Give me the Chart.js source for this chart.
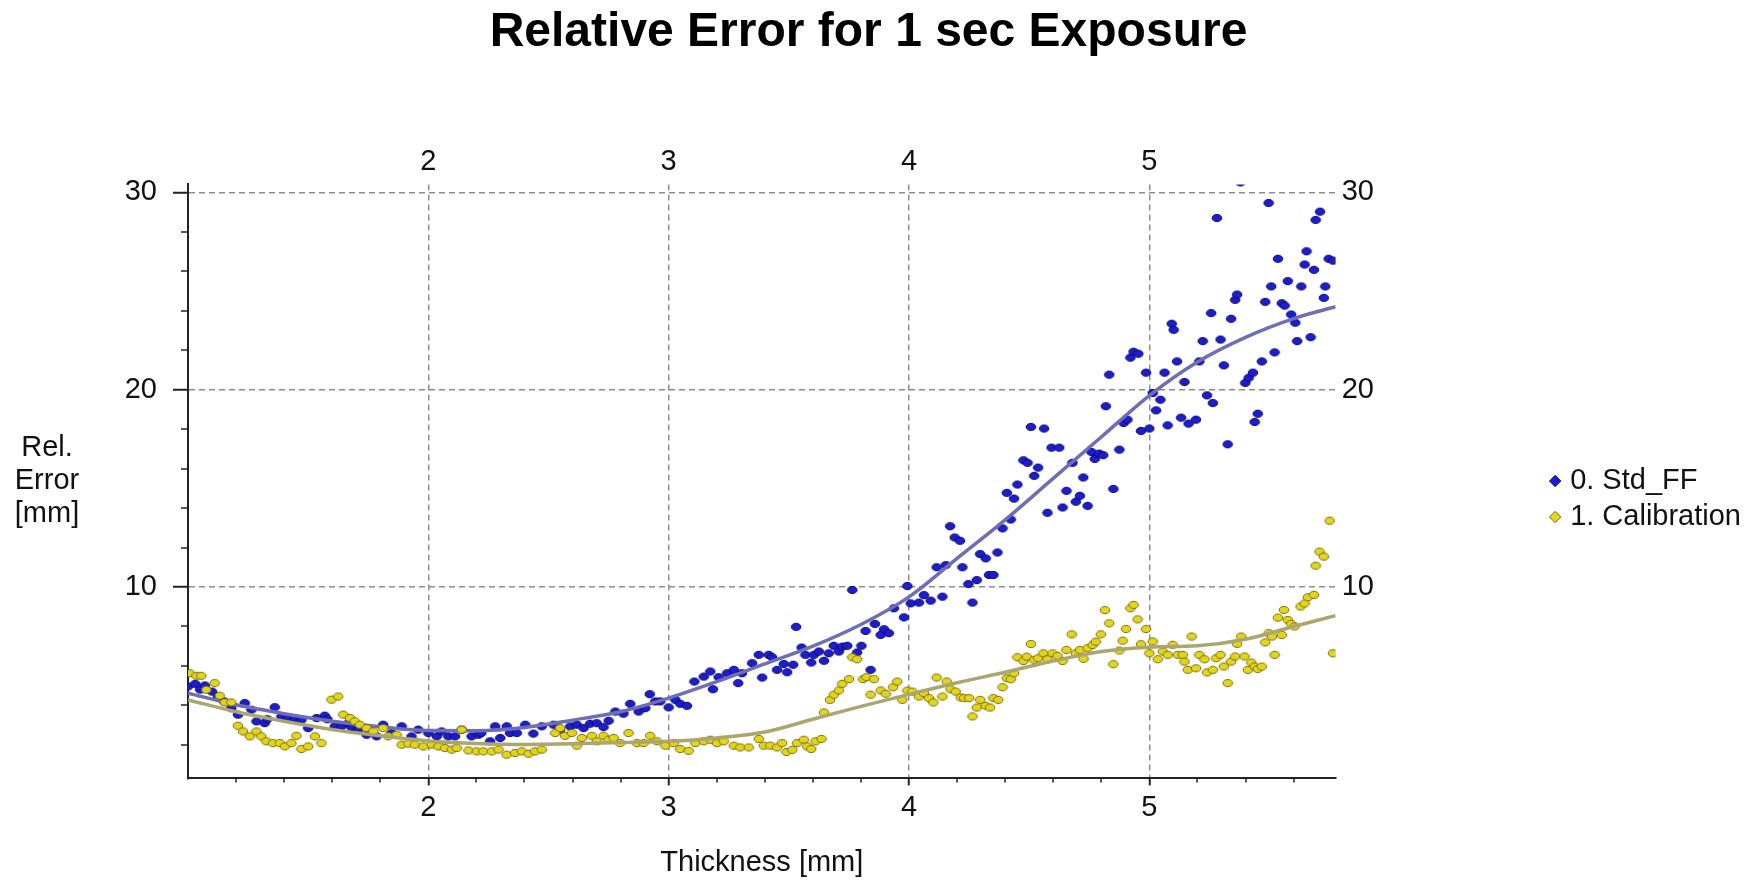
<!DOCTYPE html>
<html>
<head>
<meta charset="utf-8">
<title>Relative Error for 1 sec Exposure</title>
<script src="https://cdn.jsdelivr.net/npm/chart.js@4.4.1/dist/chart.umd.min.js"></script>
<style>
    html, body { margin: 0; padding: 0; background: #fff; }
    #wrap { width: 1751px; height: 880px; }
</style>
</head>
<body>
<div id="wrap"><canvas id="rel-error" width="1751" height="880"></canvas></div>
<script>
// 0. Std_FF measured points
var stdThickness = [1.00, 1.03, 1.05, 1.07, 1.10, 1.125, 1.15, 1.18, 1.208, 1.236, 1.264, 1.285, 1.319, 1.33, 1.361, 1.389, 1.417, 1.444, 1.472, 1.50,
    1.535, 1.569, 1.58, 1.611, 1.639, 1.667, 1.68, 1.708, 1.743, 1.76, 1.785, 1.812, 1.847, 1.889, 1.93, 1.958, 2.00, 2.035, 2.055, 2.083,
    2.111, 2.139, 2.18, 2.208, 2.22, 2.257, 2.278, 2.299, 2.326, 2.34, 2.368, 2.403, 2.437, 2.472, 2.521, 2.548, 2.59, 2.618, 2.646, 2.673,
    2.701, 2.729, 2.75, 2.778, 2.812, 2.84, 2.875, 2.903, 2.921, 2.944, 2.965, 3.00, 3.028, 3.048, 3.076, 3.107, 3.146, 3.173, 3.184, 3.208,
    3.243, 3.271, 3.289, 3.305, 3.347, 3.375, 3.389, 3.416, 3.43, 3.451, 3.479, 3.493, 3.518, 3.53, 3.553, 3.569, 3.593, 3.604, 3.625, 3.646,
    3.666, 3.687, 3.708, 3.722, 3.743, 3.764, 3.784, 3.802, 3.819, 3.84, 3.858, 3.882, 3.896, 3.916, 3.937, 3.979, 3.993, 4.007, 4.041, 4.062,
    4.09, 4.115, 4.139, 4.153, 4.171, 4.19, 4.212, 4.222, 4.247, 4.264, 4.282, 4.296, 4.319, 4.333, 4.351, 4.368, 4.389, 4.407, 4.423, 4.437,
    4.451, 4.476, 4.493, 4.507, 4.521, 4.537, 4.562, 4.576, 4.593, 4.625, 4.639, 4.655, 4.68, 4.694, 4.711, 4.725, 4.743, 4.759, 4.773, 4.791,
    4.808, 4.819, 4.833, 4.85, 4.875, 4.893, 4.909, 4.921, 4.934, 4.954, 4.965, 4.986, 5.00, 5.014, 5.028, 5.046, 5.063, 5.076, 5.093, 5.101,
    5.115, 5.132, 5.146, 5.163, 5.194, 5.208, 5.222, 5.24, 5.257, 5.264, 5.281, 5.296, 5.31, 5.326, 5.34, 5.357, 5.365, 5.379, 5.399, 5.413,
    5.431, 5.438, 5.451, 5.468, 5.482, 5.496, 5.507, 5.521, 5.535, 5.551, 5.563, 5.576, 5.59, 5.607, 5.615, 5.632, 5.646, 5.654, 5.671, 5.685,
    5.692, 5.71, 5.726, 5.732, 5.746, 5.764];
var stdError = [4.96, 5.09, 4.80, 5.01, 4.70, 4.45, 4.20, 3.86, 3.53, 4.12, 3.78, 3.19, 3.10, 3.30, 3.91, 3.44, 3.36, 3.36, 3.27, 2.85,
    3.36, 3.48, 3.30, 2.94, 2.94, 3.10, 2.90, 2.77, 2.51, 2.70, 2.43, 3.02, 2.60, 2.94, 2.43, 2.77, 2.60, 2.43, 2.68, 2.43,
    2.43, 2.77, 2.43, 2.51, 2.60, 2.18, 2.94, 2.35, 2.94, 2.60, 2.60, 3.02, 2.57, 2.94, 3.02, 2.77, 2.93, 3.02, 2.85, 3.07,
    3.10, 2.90, 3.22, 3.69, 3.58, 4.08, 3.69, 3.86, 4.57, 4.20, 4.20, 3.90, 4.28, 4.08, 3.98, 5.21, 5.46, 5.72, 4.82, 5.43,
    5.63, 5.80, 5.13, 5.63, 6.14, 6.56, 5.41, 6.56, 6.44, 5.80, 6.10, 5.68, 6.06, 7.98, 6.93, 6.56, 6.17, 6.56, 6.73, 6.26,
    6.64, 7.02, 6.73, 6.98, 7.02, 9.85, 6.68, 7.02, 7.77, 5.80, 8.13, 7.57, 7.86, 7.66, 8.92, 8.46, 10.05, 9.17, 9.21, 9.59,
    9.31, 11.00, 9.51, 11.11, 13.08, 12.51, 12.34, 11.00, 10.15, 9.21, 10.35, 11.67, 11.45, 10.61, 10.61, 11.75, 12.97, 14.77, 13.42, 14.48,
    15.19, 16.42, 16.29, 18.11, 15.63, 16.05, 18.03, 13.76, 17.06, 17.06, 14.03, 14.87, 16.29, 14.32, 14.62, 15.55, 14.11, 16.84, 16.49, 16.76,
    16.68, 19.16, 20.76, 14.97, 16.96, 18.31, 18.48, 21.62, 21.92, 21.82, 17.91, 20.86, 18.03, 19.83, 18.95, 19.49, 20.86, 18.19, 23.34, 23.03,
    21.43, 18.58, 20.39, 18.28, 18.48, 21.43, 22.46, 19.71, 23.88, 19.32, 28.70, 22.54, 21.23, 17.23, 23.59, 24.55, 24.82, 30.50, 20.34, 20.60,
    20.86, 18.36, 18.78, 21.43, 24.45, 29.46, 25.23, 21.89, 26.63, 24.38, 24.26, 25.50, 23.81, 23.39, 22.46, 25.23, 26.34, 27.01, 22.66, 26.07,
    28.60, 29.02, 24.65, 25.23, 26.63, 26.54];

// 1. Calibration measured points
var calThickness = [1.007, 1.035, 1.055, 1.076, 1.111, 1.132, 1.153, 1.18, 1.208, 1.229, 1.257, 1.285, 1.305, 1.326, 1.354, 1.382, 1.403, 1.43, 1.451, 1.472,
    1.50, 1.528, 1.555, 1.597, 1.625, 1.646, 1.674, 1.694, 1.715, 1.743, 1.771, 1.812, 1.833, 1.868, 1.889, 1.917, 1.944, 1.979, 2.014, 2.042,
    2.069, 2.097, 2.118, 2.139, 2.167, 2.201, 2.229, 2.264, 2.292, 2.326, 2.361, 2.389, 2.417, 2.444, 2.472, 2.528, 2.548, 2.569, 2.597, 2.618,
    2.639, 2.68, 2.701, 2.729, 2.75, 2.771, 2.798, 2.833, 2.868, 2.896, 2.923, 2.951, 2.986, 3.021, 3.048, 3.083, 3.111, 3.146, 3.173, 3.201,
    3.229, 3.271, 3.298, 3.333, 3.375, 3.396, 3.423, 3.451, 3.472, 3.49, 3.514, 3.534, 3.562, 3.576, 3.593, 3.611, 3.636, 3.646, 3.671, 3.687,
    3.708, 3.722, 3.75, 3.764, 3.784, 3.809, 3.823, 3.84, 3.854, 3.882, 3.903, 3.934, 3.951, 3.972, 3.993, 4.014, 4.041, 4.062, 4.083, 4.101,
    4.115, 4.139, 4.157, 4.173, 4.194, 4.215, 4.229, 4.25, 4.264, 4.282, 4.296, 4.319, 4.337, 4.351, 4.371, 4.389, 4.407, 4.423, 4.437, 4.451,
    4.476, 4.49, 4.507, 4.521, 4.537, 4.559, 4.576, 4.597, 4.618, 4.639, 4.655, 4.677, 4.694, 4.711, 4.726, 4.743, 4.764, 4.777, 4.798, 4.815,
    4.833, 4.85, 4.875, 4.889, 4.903, 4.921, 4.934, 4.951, 4.965, 4.986, 5.00, 5.014, 5.035, 5.056, 5.076, 5.097, 5.118, 5.139, 5.146, 5.16,
    5.176, 5.194, 5.208, 5.229, 5.24, 5.264, 5.278, 5.296, 5.31, 5.326, 5.34, 5.357, 5.365, 5.382, 5.396, 5.41, 5.424, 5.438, 5.451, 5.468,
    5.482, 5.496, 5.51, 5.521, 5.535, 5.551, 5.56, 5.576, 5.59, 5.604, 5.629, 5.646, 5.66, 5.685, 5.692, 5.708, 5.726, 5.75, 5.764];
var calError = [5.63, 5.50, 5.50, 4.79, 5.13, 4.49, 4.15, 4.15, 2.97, 2.68, 2.43, 2.68, 2.43, 2.18, 2.09, 2.09, 1.92, 2.09, 2.46, 1.79,
    1.92, 2.43, 2.09, 4.29, 4.45, 3.53, 3.36, 3.19, 3.02, 2.85, 2.68, 2.85, 2.43, 2.51, 2.01, 2.06, 2.01, 1.92, 2.01, 1.92,
    1.84, 1.76, 1.84, 2.77, 1.72, 1.67, 1.67, 1.67, 1.76, 1.50, 1.59, 1.67, 1.55, 1.67, 1.76, 2.60, 2.85, 2.46, 2.60, 1.96,
    2.35, 2.46, 2.18, 2.46, 2.26, 2.35, 2.09, 2.60, 2.09, 2.09, 2.46, 2.18, 1.96, 2.09, 1.79, 1.70, 2.09, 2.18, 2.26, 2.09,
    2.18, 1.96, 1.87, 1.87, 2.30, 1.96, 1.96, 1.87, 2.09, 1.64, 1.75, 2.09, 2.26, 1.92, 1.79, 2.18, 2.30, 3.64, 4.28, 4.54,
    4.76, 5.09, 5.33, 6.44, 6.34, 5.33, 5.43, 4.54, 5.33, 4.76, 4.59, 4.92, 5.21, 4.28, 4.75, 4.70, 4.45, 4.62, 4.37, 4.15,
    5.41, 4.45, 5.21, 4.82, 4.70, 4.40, 4.37, 4.37, 3.44, 3.89, 4.28, 3.98, 3.89, 4.37, 4.28, 4.92, 5.38, 5.33, 5.63, 6.44,
    6.25, 6.47, 7.11, 6.31, 6.39, 6.64, 6.34, 6.64, 6.51, 6.25, 6.81, 7.60, 6.64, 6.81, 6.36, 6.90, 7.06, 7.23, 7.60, 8.83,
    8.16, 6.09, 6.78, 7.28, 7.87, 8.92, 9.09, 8.36, 7.10, 7.87, 6.64, 7.24, 6.34, 6.73, 6.56, 7.07, 6.56, 6.56, 6.22, 5.80,
    7.49, 5.88, 6.56, 6.34, 5.67, 5.80, 6.39, 6.56, 5.97, 5.13, 6.22, 6.48, 7.12, 7.49, 6.48, 5.80, 6.17, 5.97, 5.85, 5.97,
    7.19, 7.66, 7.49, 6.56, 8.45, 7.57, 8.84, 8.33, 8.13, 8.00, 9.01, 9.17, 9.48, 9.60, 11.08, 11.79, 11.54, 13.36, 6.64];

// smoothed fit curves
var fitThickness = [1.0, 1.2, 1.4, 1.6, 1.8, 2.0, 2.2, 2.4, 2.6, 2.8, 3.0, 3.2, 3.4, 3.6, 3.8, 4.0, 4.2, 4.4, 4.6, 4.8, 5.0, 5.2, 5.4, 5.6, 5.775];
var stdFitError = [4.62, 4.03, 3.58, 3.20, 2.92, 2.73, 2.72, 2.88, 3.25, 3.68, 4.37, 5.20, 6.10, 7.00, 8.10, 9.50, 11.45, 13.40, 15.50, 17.60, 19.70, 21.40, 22.65, 23.60, 24.20];
var calFitError = [4.28, 3.68, 3.20, 2.78, 2.46, 2.20, 2.07, 2.02, 2.05, 2.12, 2.18, 2.35, 2.65, 3.30, 3.95, 4.56, 5.15, 5.68, 6.25, 6.73, 6.95, 7.02, 7.35, 8.00, 8.55];

// axis ticks
var xMajorTicks = [2, 3, 4, 5];
var xMinorTicks = [1.2, 1.4, 1.6, 1.8, 2.2, 2.4, 2.6, 2.8, 3.2, 3.4, 3.6, 3.8, 4.2, 4.4, 4.6, 4.8, 5.2, 5.4, 5.6];
var yMajorTicks = [10, 20, 30];
var yMinorTicks = [2, 4, 6, 8, 12, 14, 16, 18, 22, 24, 26, 28];
var yTitleLines = ['Rel.', 'Error', '[mm]'];

var FONT = '"Liberation Sans", Arial, sans-serif';

function toPoints(xs, ys) {
    return xs.map(function (x, i) { return {x: x, y: ys[i]}; });
}

// small oval marker like the original plot
function dotImage(fill, stroke) {
    var c = document.createElement('canvas');
    c.width = 12;
    c.height = 10;
    var g = c.getContext('2d');
    g.beginPath();
    g.ellipse(6, 5, 4.8, 3.6, 0, 0, Math.PI * 2);
    g.fillStyle = fill;
    g.fill();
    g.lineWidth = 1;
    g.strokeStyle = stroke;
    g.stroke();
    return c;
}

function fixedTicks(list) {
    return function (scale) {
        scale.ticks = list.map(function (v) { return {value: v}; });
    };
}

// minor tick marks + horizontal y title
var extras = {
    id: 'extras',
    afterDraw: function (chart) {
        var ctx = chart.ctx, xs = chart.scales.x, ys = chart.scales.y, area = chart.chartArea;
        ctx.save();
        ctx.strokeStyle = '#222';
        ctx.lineWidth = 1.5;
        ctx.beginPath();
        xMinorTicks.forEach(function (v) {
            var px = Math.round(xs.getPixelForValue(v));
            ctx.moveTo(px, area.bottom);
            ctx.lineTo(px, area.bottom + 4);
        });
        yMinorTicks.forEach(function (v) {
            var py = Math.round(ys.getPixelForValue(v));
            ctx.moveTo(area.left, py);
            ctx.lineTo(area.left - 7, py);
        });
        ctx.stroke();

        ctx.fillStyle = '#111';
        ctx.font = '29px ' + FONT;
        ctx.textAlign = 'center';
        ctx.textBaseline = 'middle';
        var cy = (area.top + area.bottom) / 2;
        yTitleLines.forEach(function (t, i) {
            ctx.fillText(t, 47, cy + (i - 1) * 33);
        });
        ctx.restore();
    }
};

var blueDot = dotImage('#1d1dd0', '#0a0a6e');
var yellowDot = dotImage('#e3d51c', '#7a700a');

var tickFont = {family: FONT, size: 29};

var chart = new Chart(document.getElementById('rel-error'), {
    type: 'scatter',
    data: {
        datasets: [{
            label: '0. Std_FF',
            data: toPoints(stdThickness, stdError),
            pointStyle: blueDot,
            pointRadius: 4,
            backgroundColor: '#1d1dd0',
            borderColor: '#0a0a6e',
            borderWidth: 1,
            order: 4
        }, {
            label: '1. Calibration',
            data: toPoints(calThickness, calError),
            pointStyle: yellowDot,
            pointRadius: 4,
            backgroundColor: '#e3d51c',
            borderColor: '#7a700a',
            borderWidth: 1,
            order: 2
        }, {
            label: 'Std_FF fit',
            data: toPoints(fitThickness, stdFitError),
            showLine: true,
            borderColor: '#6e6eb4',
            borderWidth: 3.5,
            pointRadius: 0,
            tension: 0.4,
            cubicInterpolationMode: 'monotone',
            order: 3
        }, {
            label: 'Calibration fit',
            data: toPoints(fitThickness, calFitError),
            showLine: true,
            borderColor: '#aba56f',
            borderWidth: 3.5,
            pointRadius: 0,
            tension: 0.4,
            cubicInterpolationMode: 'monotone',
            order: 1
        }]
    },
    options: {
        responsive: false,
        animation: false,
        // negative left padding moves the page title a little left, as in the original
        layout: {padding: {top: 0, left: -14, right: 0, bottom: 0}},
        plugins: {
            tooltip: {enabled: false},
            title: {
                display: true,
                text: 'Relative Error for 1 sec Exposure',
                color: '#000',
                font: {family: FONT, size: 48, weight: 'bold'},
                padding: {top: 4, bottom: 78}
            },
            legend: {
                position: 'right',
                fullSize: false,
                title: {display: true, text: '', font: {size: 1}, padding: {top: 34, bottom: 0}},
                labels: {
                    usePointStyle: true,
                    pointStyle: 'rectRot',
                    boxWidth: 1,
                    boxHeight: 8,
                    padding: 7,
                    color: '#111',
                    font: tickFont,
                    filter: function (item) { return item.datasetIndex < 2; },
                    sort: function (a, b) { return a.datasetIndex - b.datasetIndex; }
                }
            }
        },
        scales: {
            x: {
                type: 'linear',
                position: 'bottom',
                min: 1,
                max: 5.775,
                afterBuildTicks: fixedTicks(xMajorTicks),
                grid: {color: '#8e8e8e', lineWidth: 1.5, tickLength: 7, tickColor: '#222', tickWidth: 2},
                border: {display: true, color: '#222', width: 2, dash: [6, 4]},
                ticks: {color: '#111', font: tickFont, padding: 5, maxRotation: 0, autoSkip: false},
                title: {display: true, text: 'Thickness [mm]', color: '#111', font: tickFont, padding: {top: 15, bottom: 0}}
            },
            x2: {
                type: 'linear',
                position: 'top',
                min: 1,
                max: 5.775,
                afterBuildTicks: fixedTicks(xMajorTicks),
                grid: {display: false, drawTicks: false},
                border: {display: false},
                ticks: {color: '#111', font: tickFont, padding: 5, maxRotation: 0, autoSkip: false}
            },
            y: {
                type: 'linear',
                position: 'left',
                min: 0.3,
                max: 30.4,
                afterBuildTicks: fixedTicks(yMajorTicks),
                afterFit: function (scale) { scale.width = 202; },
                grid: {color: '#8e8e8e', lineWidth: 1.5, tickLength: 15, tickColor: '#222', tickWidth: 2},
                border: {display: true, color: '#222', width: 2, dash: [6, 4]},
                ticks: {color: '#111', font: tickFont, padding: 16}
            },
            y2: {
                type: 'linear',
                position: 'right',
                min: 0.3,
                max: 30.4,
                afterBuildTicks: fixedTicks(yMajorTicks),
                afterFit: function (scale) { scale.width = 212; },
                grid: {display: false, drawTicks: false},
                border: {display: false},
                ticks: {color: '#111', font: tickFont, padding: 6}
            }
        }
    },
    plugins: [extras]
});
</script>
</body>
</html>
